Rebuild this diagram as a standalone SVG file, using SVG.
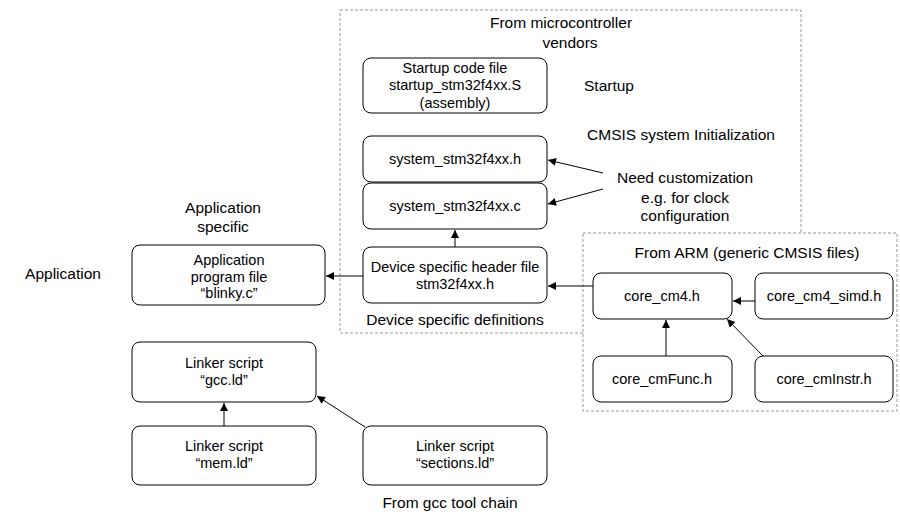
<svg xmlns="http://www.w3.org/2000/svg" width="900" height="514" viewBox="0 0 900 514">
<style>
.n{fill:#fff;stroke:#000;stroke-width:1}
.t{font-family:"Liberation Sans",Arial,sans-serif;font-size:14.5px;text-anchor:middle;fill:#000}
.l{font-family:"Liberation Sans",Arial,sans-serif;font-size:15.5px;text-anchor:middle;fill:#000}
.c{stroke:#000;stroke-width:1;fill:none;marker-end:url(#a)}
.d{stroke:#999;stroke-width:1;fill:none;stroke-dasharray:3,2}
</style>
<defs>
<marker id="a" viewBox="0 0 10 10" refX="10" refY="5" markerWidth="9" markerHeight="8" markerUnits="userSpaceOnUse" orient="auto">
<path d="M0,0 L10,5 L0,10 z" fill="#000"/>
</marker>
</defs>
<rect width="900" height="514" fill="#fff"/>
<g id="groups">
<path class="d" d="M340,10 H801 V233 M583,333 H340 V10"/>
<rect class="d" x="583" y="233" width="314" height="178"/>
</g>
<g id="labels">
<text class="l" x="561" y="28">From microcontroller</text>
<text class="l" x="570" y="48">vendors</text>
<text class="l" x="609" y="91">Startup</text>
<text class="l" x="681" y="140">CMSIS system Initialization</text>
<text class="l" x="685" y="183">Need customization</text>
<text class="l" x="685" y="203">e.g. for clock</text>
<text class="l" x="685" y="221">configuration</text>
<text class="l" x="223" y="213">Application</text>
<text class="l" x="223" y="232">specific</text>
<text class="l" x="63" y="279">Application</text>
<text class="l" x="455" y="325">Device specific definitions</text>
<text class="l" x="747" y="258">From ARM (generic CMSIS files)</text>
<text class="l" x="450" y="508">From gcc tool chain</text>
</g>
<g id="connectors">
<line class="c" x1="455" y1="247" x2="455" y2="230"/>
<line class="c" x1="363" y1="276" x2="326" y2="276"/>
<line class="c" x1="603" y1="173" x2="548" y2="160"/>
<line class="c" x1="603" y1="189" x2="548" y2="204"/>
<line class="c" x1="593" y1="286" x2="548" y2="286"/>
<line class="c" x1="755" y1="301" x2="733" y2="301"/>
<line class="c" x1="666" y1="356" x2="666" y2="320"/>
<line class="c" x1="763" y1="356" x2="727" y2="319"/>
<line class="c" x1="224" y1="426" x2="224" y2="403"/>
<line class="c" x1="365" y1="427" x2="317" y2="396"/>
</g>
<g id="startup"><rect class="n" x="363" y="58" width="184" height="55" rx="8"/>
<text class="t" x="455" y="73">Startup code file</text><text class="t" x="455" y="90">startup_stm32f4xx.S</text><text class="t" x="455" y="108">(assembly)</text></g>
<g id="system_h"><rect class="n" x="363" y="136" width="184" height="46" rx="8"/>
<text class="t" x="455" y="164">system_stm32f4xx.h</text></g>
<g id="system_c"><rect class="n" x="363" y="183" width="184" height="46" rx="8"/>
<text class="t" x="455" y="211">system_stm32f4xx.c</text></g>
<g id="device"><rect class="n" x="363" y="247" width="184" height="56" rx="8"/>
<text class="t" x="455" y="272">Device specific header file</text><text class="t" x="455" y="289">stm32f4xx.h</text></g>
<g id="app"><rect class="n" x="132" y="245" width="193" height="60" rx="8"/>
<text class="t" x="229" y="265">Application</text><text class="t" x="229" y="282">program file</text><text class="t" x="229" y="298">“blinky.c”</text></g>
<g id="core_cm4"><rect class="n" x="593" y="273" width="139" height="46" rx="8"/>
<text class="t" x="662" y="301">core_cm4.h</text></g>
<g id="core_cm4_simd"><rect class="n" x="755" y="273" width="138" height="46" rx="8"/>
<text class="t" x="824" y="301">core_cm4_simd.h</text></g>
<g id="core_cmFunc"><rect class="n" x="593" y="356" width="139" height="46" rx="8"/>
<text class="t" x="662" y="384">core_cmFunc.h</text></g>
<g id="core_cmInstr"><rect class="n" x="755" y="356" width="138" height="46" rx="8"/>
<text class="t" x="824" y="384">core_cmInstr.h</text></g>
<g id="gcc_ld"><rect class="n" x="132" y="342" width="184" height="60" rx="8"/>
<text class="t" x="224" y="368">Linker script</text><text class="t" x="224" y="385">“gcc.ld”</text></g>
<g id="mem_ld"><rect class="n" x="132" y="426" width="184" height="59" rx="8"/>
<text class="t" x="224" y="451">Linker script</text><text class="t" x="224" y="468">“mem.ld”</text></g>
<g id="sections_ld"><rect class="n" x="363" y="426" width="184" height="59" rx="8"/>
<text class="t" x="455" y="451">Linker script</text><text class="t" x="455" y="468">“sections.ld”</text></g>
</svg>
